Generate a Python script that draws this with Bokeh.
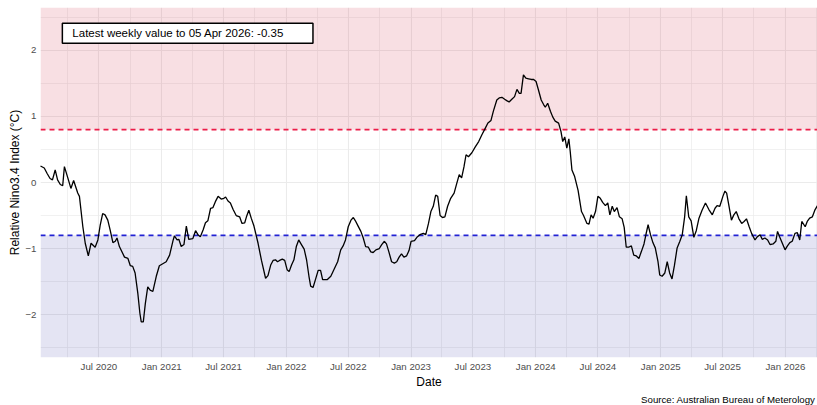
import pandas as pd
from bokeh.plotting import figure
from bokeh.models import (Range1d, FixedTicker, BoxAnnotation, Span, Label, Title,
                          DatetimeTickFormatter)
from bokeh.embed import file_html
from bokeh.resources import INLINE

# ---------------- data ----------------
start_date = "2020-01-12"
day_offsets = [
    0, 11, 19, 28, 35, 43, 50, 58, 65, 70, 80, 89, 97, 109, 114, 124, 131, 140, 148, 160,
    168, 175, 182, 189, 197, 204, 212, 219, 224, 231, 246, 256, 263, 270, 277, 285, 291, 295, 301, 307,
    314, 321, 329, 339, 348, 358, 368, 378, 388, 392, 400, 405, 412, 420, 427, 434, 446, 454, 461, 468,
    476, 483, 490, 498, 505, 512, 520, 529, 537, 542, 549, 556, 564, 573, 583, 590, 598, 603, 610, 617,
    625, 637, 647, 659, 666, 674, 681, 688, 694, 700, 708, 715, 722, 728, 735, 742, 749, 756, 764, 772,
    779, 786, 791, 798, 805, 813, 820, 826, 832, 840, 850, 860, 870, 879, 886, 893, 901, 909, 916, 922,
    930, 938, 945, 952, 960, 967, 974, 982, 992, 999, 1007, 1013, 1020, 1028, 1036, 1043, 1050, 1057, 1064, 1072,
    1079, 1085, 1095, 1102, 1111, 1121, 1128, 1136, 1143, 1150, 1157, 1163, 1170, 1177, 1184, 1192, 1201, 1211, 1219, 1226,
    1233, 1240, 1246, 1253, 1263, 1273, 1283, 1292, 1302, 1310, 1319, 1326, 1336, 1343, 1351, 1359, 1365, 1372, 1380, 1388,
    1395, 1402, 1407, 1414, 1421, 1429, 1437, 1444, 1451, 1458, 1466, 1473, 1478, 1485, 1493, 1500, 1507, 1517, 1524, 1529,
    1535, 1541, 1547, 1551, 1556, 1564, 1574, 1584, 1590, 1600, 1606, 1612, 1618, 1625, 1632, 1639, 1646, 1654, 1661, 1667,
    1674, 1680, 1688, 1695, 1703, 1709, 1715, 1722, 1730, 1737, 1744, 1752, 1759, 1767, 1773, 1779, 1786, 1793, 1800, 1808,
    1813, 1820, 1828, 1835, 1842, 1849, 1856, 1864, 1872, 1879, 1886, 1891, 1898, 1905, 1913, 1920, 1928, 1937, 1947, 1957,
    1967, 1975, 1981, 1989, 1998, 2004, 2009, 2016, 2023, 2030, 2037, 2045, 2053, 2060, 2067, 2075, 2082, 2092, 2099, 2107,
    2113, 2121, 2129, 2136, 2145, 2153, 2158, 2164, 2172, 2180, 2187, 2194, 2201, 2209, 2216, 2223, 2229, 2239, 2245, 2252,
    2260, 2268, 2275,
]
index_values = [
    0.25, 0.22, 0.14, 0.06, 0.04, 0.19, 0.04, -0.03, -0.05, 0.24, 0.07, -0.09, 0.03, -0.16, -0.21, -0.67, -0.92, -1.11, -0.92, -0.98,
    -0.87, -0.64, -0.47, -0.49, -0.57, -0.72, -0.91, -0.89, -0.84, -0.97, -1.13, -1.15, -1.26, -1.27, -1.37, -1.68, -1.98, -2.11, -2.11, -1.83,
    -1.58, -1.63, -1.65, -1.42, -1.26, -1.23, -1.20, -1.10, -0.88, -0.81, -0.87, -0.86, -0.97, -0.94, -0.66, -0.86, -0.85, -0.73, -0.79, -0.82,
    -0.72, -0.61, -0.58, -0.39, -0.38, -0.29, -0.21, -0.25, -0.24, -0.22, -0.28, -0.31, -0.41, -0.50, -0.52, -0.62, -0.61, -0.52, -0.42, -0.54,
    -0.66, -0.92, -1.18, -1.45, -1.41, -1.25, -1.18, -1.17, -1.20, -1.18, -1.16, -1.18, -1.32, -1.35, -1.25, -1.17, -0.97, -0.87, -0.94, -1.01,
    -1.17, -1.42, -1.57, -1.59, -1.47, -1.33, -1.33, -1.47, -1.47, -1.47, -1.42, -1.31, -1.20, -1.02, -0.96, -0.87, -0.67, -0.57, -0.53, -0.58,
    -0.66, -0.74, -0.84, -0.97, -0.98, -1.05, -1.06, -1.02, -1.00, -0.94, -0.89, -0.93, -1.05, -1.20, -1.22, -1.20, -1.13, -1.08, -1.13, -1.11,
    -1.03, -0.89, -0.88, -0.83, -0.79, -0.77, -0.79, -0.62, -0.44, -0.36, -0.19, -0.21, -0.50, -0.53, -0.52, -0.36, -0.24, -0.16, -0.01, 0.12,
    0.07, 0.24, 0.42, 0.39, 0.45, 0.54, 0.62, 0.72, 0.82, 0.90, 0.94, 1.08, 1.25, 1.28, 1.29, 1.26, 1.24, 1.22, 1.26, 1.30,
    1.41, 1.35, 1.35, 1.63, 1.58, 1.57, 1.56, 1.56, 1.53, 1.40, 1.25, 1.18, 1.14, 1.20, 1.08, 0.99, 0.93, 0.90, 0.77, 0.62,
    0.69, 0.52, 0.66, 0.47, 0.19, 0.09, -0.12, -0.44, -0.50, -0.62, -0.63, -0.49, -0.54, -0.44, -0.21, -0.24, -0.30, -0.35, -0.31, -0.49,
    -0.36, -0.44, -0.38, -0.52, -0.55, -0.68, -0.98, -0.98, -0.96, -1.10, -1.11, -1.15, -1.05, -0.93, -0.78, -0.64, -0.79, -0.91, -0.99, -1.20,
    -1.40, -1.42, -1.37, -1.20, -1.37, -1.46, -1.26, -0.99, -0.89, -0.79, -0.52, -0.20, -0.52, -0.58, -0.83, -0.73, -0.54, -0.42, -0.31, -0.41,
    -0.49, -0.39, -0.35, -0.36, -0.21, -0.13, -0.16, -0.36, -0.57, -0.49, -0.44, -0.55, -0.62, -0.59, -0.55, -0.67, -0.77, -0.87, -0.82, -0.79,
    -0.86, -0.84, -0.87, -0.94, -0.93, -0.89, -0.74, -0.82, -0.92, -1.02, -0.96, -0.91, -0.89, -0.77, -0.76, -0.87, -0.59, -0.67, -0.59, -0.54,
    -0.52, -0.41, -0.35,
]
x_tick_labels = ["Jul 2020", "Jan 2021", "Jul 2021", "Jan 2022", "Jul 2022", "Jan 2023",
                 "Jul 2023", "Jan 2024", "Jul 2024", "Jan 2025", "Jul 2025", "Jan 2026"]
x_minor_months = ["Apr 2020", "Oct 2020", "Apr 2021", "Oct 2021", "Apr 2022", "Oct 2022",
                  "Apr 2023", "Oct 2023", "Apr 2024", "Oct 2024", "Apr 2025", "Oct 2025", "Apr 2026"]
y_ticks = [-2, -1, 0, 1, 2]
y_minor_ticks = [-2.5, -1.5, -0.5, 0.5, 1.5, 2.5]
el_nino_threshold = 0.8
la_nina_threshold = -0.8
latest_text = "Latest weekly value to 05 Apr 2026: -0.35"
label_date = "2020-03-16"
label_value = 2.26
y_limits = (-2.65, 2.65)

FONT = "Liberation Sans"


def ms(ts):
    return pd.Timestamp(ts).timestamp() * 1000.0


dates = pd.to_datetime(start_date) + pd.to_timedelta(day_offsets, unit="D")
major_ms = [ms(pd.to_datetime(s, format="%b %Y")) for s in x_tick_labels]
minor_ms = [ms(pd.to_datetime(s, format="%b %Y")) for s in x_minor_months]

p = figure(width=817, height=405, x_axis_type="datetime",
           x_range=Range1d(dates[0], dates[-1]), y_range=Range1d(*y_limits),
           output_backend="svg", toolbar_location=None,
           min_border_left=40, min_border_right=0, min_border_top=7, min_border_bottom=48)
p.outline_line_color = None
p.background_fill_color = "white"
p.border_fill_color = "white"

# bands
p.add_layout(BoxAnnotation(bottom=el_nino_threshold, fill_color="#d02a44", fill_alpha=0.15,
                           line_color=None, level="glyph"))
p.add_layout(BoxAnnotation(top=la_nina_threshold, fill_color="#00008b", fill_alpha=0.105,
                           line_color=None, level="glyph"))

# thresholds
p.add_layout(Span(location=el_nino_threshold, dimension="width", line_color="#ec1c48",
                  line_dash="5 4", line_width=1.6))
p.add_layout(Span(location=la_nina_threshold, dimension="width", line_color="#2222d4",
                  line_dash="5 4", line_width=1.6))

p.line(dates, index_values, line_color="black", line_width=1.3, level="overlay")

# axes
xt = FixedTicker(ticks=major_ms, minor_ticks=minor_ms)
yt = FixedTicker(ticks=y_ticks, minor_ticks=y_minor_ticks)
p.xaxis.ticker = xt
p.yaxis.ticker = yt
p.xgrid.ticker = xt
p.ygrid.ticker = yt
p.xaxis.formatter = DatetimeTickFormatter(days="%b %Y", months="%b %Y", years="%b %Y")

for ax in (p.xaxis[0], p.yaxis[0]):
    ax.axis_line_color = None
    ax.major_tick_line_color = None
    ax.minor_tick_line_color = None
    ax.major_tick_out = 0
    ax.major_tick_in = 0
    ax.minor_tick_out = 0
    ax.minor_tick_in = 0
    ax.major_label_text_font = FONT
    ax.major_label_text_font_size = "9.7px"
    ax.major_label_text_color = "#4d4d4d"
    ax.axis_label_text_font = FONT
    ax.axis_label_text_font_size = "12px"
    ax.axis_label_text_font_style = "normal"
    ax.axis_label_text_color = "black"

p.xaxis.axis_label = "Date"
p.yaxis.axis_label = "Relative Nino3.4 Index (°C)"
p.xaxis.major_label_standoff = 3
p.xaxis.axis_label_standoff = 0
p.yaxis.major_label_standoff = 4
p.yaxis.axis_label_standoff = 0

for g in (p.xgrid[0], p.ygrid[0]):
    g.grid_line_color = "#ebebeb"
    g.grid_line_width = 1.1
    g.minor_grid_line_color = "#ebebeb"
    g.minor_grid_line_width = 0.7

p.add_layout(Label(x=ms(label_date), y=label_value, text=latest_text,
                   text_font=FONT, text_font_size="11.5px", text_color="black",
                   text_align="left", text_baseline="middle",
                   background_fill_color="white", border_line_color="black",
                   border_line_width=1.5, padding=dict(left=10, right=29, top=4, bottom=4),
                   level="overlay"))

p.add_layout(Title(text="Source: Australian Bureau of Meterology", align="right",
                   text_font=FONT, text_font_size="9.7px", text_font_style="normal",
                   text_color="black", standoff=0, offset=2), "below")

open("out.html", "w").write(file_html(p, INLINE))
